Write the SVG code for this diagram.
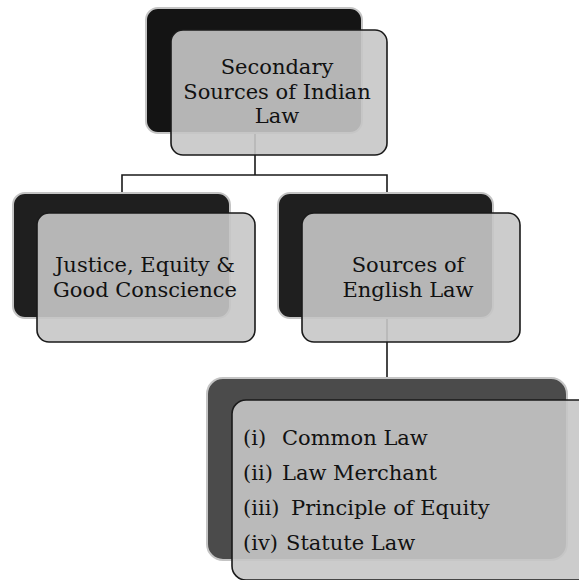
<svg xmlns="http://www.w3.org/2000/svg" width="579" height="580" viewBox="0 0 579 580">
<style>
.back{fill:#141414;stroke:#c4c4c4;stroke-width:2}
.back2{fill:#1f1f1f;stroke:#c4c4c4;stroke-width:2}
.back3{fill:#4b4b4b;stroke:#c4c4c4;stroke-width:2}
.front{fill:#c6c6c6;fill-opacity:0.9;stroke:#1a1a1a;stroke-width:1.6}
.conn{fill:none;stroke:#1a1a1a;stroke-width:1.6}
text{font-family:"DejaVu Serif","Liberation Serif",serif;font-size:21px;fill:#111}
.c{text-anchor:middle}
</style>
<rect x="0" y="0" width="579" height="580" fill="#fff"/>
<g id="connectors">
<path class="conn" d="M255,133 V175 M122,193 V175 H387 V193 M387,318 V378"/>
</g>
<g id="node-secondary">
<rect class="back" x="146" y="8" width="216" height="125" rx="12"/>
<rect class="front" x="171" y="30" width="216" height="125" rx="12"/>
<text class="c" x="277" y="74">Secondary</text>
<text class="c" x="277" y="99">Sources of Indian</text>
<text class="c" x="277" y="123">Law</text>
</g>
<g id="node-justice">
<rect class="back2" x="13" y="193" width="217" height="125" rx="12"/>
<rect class="front" x="37" y="213" width="218" height="129" rx="12"/>
<text class="c" x="145" y="272">Justice, Equity &amp;</text>
<text class="c" x="145" y="297">Good Conscience</text>
</g>
<g id="node-english">
<rect class="back2" x="278" y="193" width="215" height="125" rx="12"/>
<rect class="front" x="302" y="213" width="218" height="129" rx="12"/>
<text class="c" x="408" y="272">Sources of</text>
<text class="c" x="408" y="297">English Law</text>
</g>
<g id="node-list">
<rect class="back3" x="207" y="378" width="360" height="182" rx="16"/>
<rect class="front" x="232" y="400" width="360" height="180" rx="14"/>
<text x="243" y="445">(i)<tspan x="282">Common Law</tspan></text>
<text x="243" y="480">(ii)<tspan x="282">Law Merchant</tspan></text>
<text x="243" y="515">(iii)<tspan x="291">Principle of Equity</tspan></text>
<text x="243" y="550">(iv)<tspan x="286">Statute Law</tspan></text>
</g>
</svg>
